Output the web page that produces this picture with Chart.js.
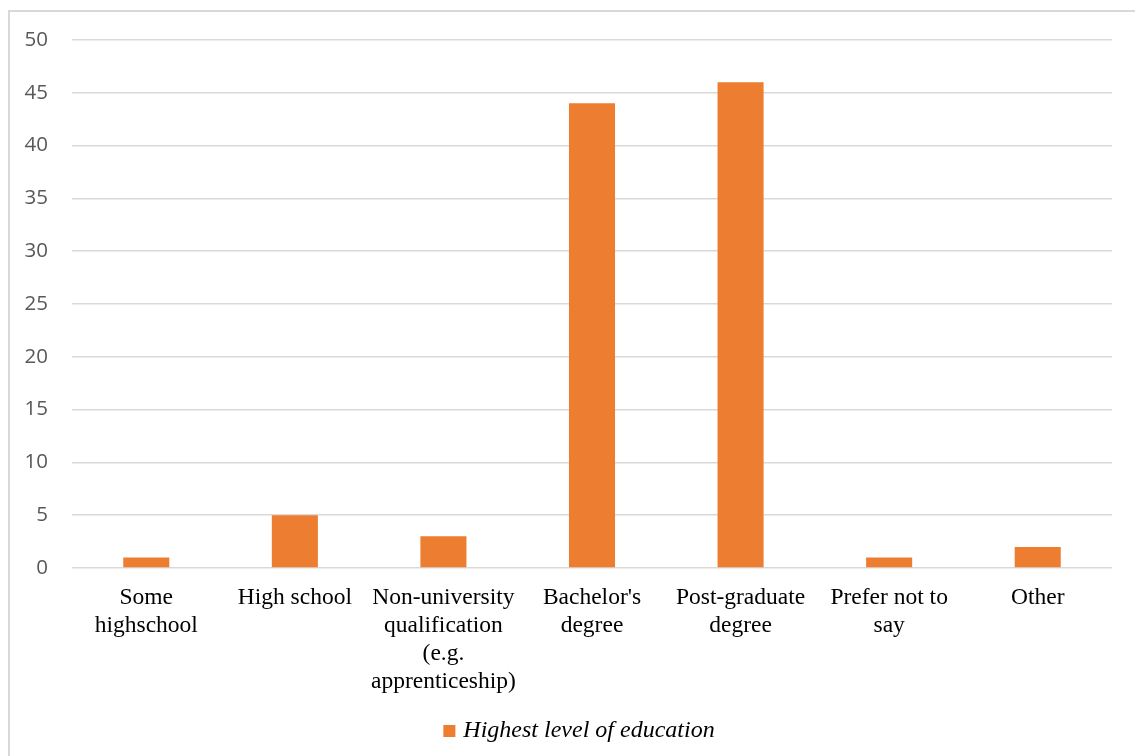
<!DOCTYPE html>
<html>
<head>
<meta charset="utf-8">
<script src="https://cdn.jsdelivr.net/npm/chart.js@4.4.0/dist/chart.umd.min.js"></script>
<style>
  body { margin: 0; background: #fff; overflow: hidden; }
  #frame { position: absolute; left: 8px; top: 10px; width: 1200px; height: 800px; border: 2px solid #d9d9d9; }
  #wrap { position: absolute; left: 0; top: 0; width: 1135px; height: 756px; }
</style>
</head>
<body>
<div id="frame"></div>
<div id="wrap"><canvas id="myChart"></canvas></div>
<script>
var categories = [
	['Some', 'highschool'],
	'High school',
	['Non-university', 'qualification', '(e.g.', 'apprenticeship)'],
	["Bachelor's", 'degree'],
	['Post-graduate', 'degree'],
	['Prefer not to', 'say'],
	'Other'
];
var values = [1, 5, 3, 44, 46, 1, 2];
var seriesName = 'Highest level of education';

var serif = '"Liberation Serif", "Times New Roman", serif';

// nudge the legend a bit to the right of the canvas centre
var legendShift = {
	id: 'legendShift',
	afterLayout: function(chart) {
		chart.legend.left += 25;
		chart.legend.right += 25;
	}
};

var ctx = document.getElementById('myChart').getContext('2d');
var chart = new Chart(ctx, {
	type: 'bar',
	data: {
		labels: categories,
		datasets: [{
			label: seriesName,
			data: values,
			backgroundColor: '#ED7D31',
			borderWidth: 0,
			barPercentage: 0.31,
			categoryPercentage: 1
		}]
	},
	options: {
		responsive: true,
		maintainAspectRatio: false,
		animation: false,
		layout: { padding: { left: 0, right: 23, top: 40, bottom: 3 } },
		plugins: {
			tooltip: { enabled: false },
			legend: {
				position: 'bottom',
				labels: {
					// narrow box slot + rect point style keeps the square close to the text
					usePointStyle: true,
					pointStyle: 'rect',
					boxWidth: 4,
					boxHeight: 12,
					padding: 10,
					color: '#000',
					font: { family: serif, size: 24, style: 'italic' }
				}
			}
		},
		scales: {
			x: {
				// fixed height keeps the plot bottom where the 0 line belongs
				afterFit: function(scale) { scale.height = 141; },
				grid: { display: false },
				border: { display: false },
				ticks: {
					color: '#000',
					padding: 8,
					maxRotation: 0,
					autoSkip: false,
					font: { family: serif, size: 23.5, lineHeight: '28px' }
				}
			},
			y: {
				min: 0,
				max: 50,
				afterFit: function(scale) { scale.width = 72; },
				grid: { color: '#d9d9d9', lineWidth: 1.5, drawTicks: false },
				border: { display: false },
				ticks: {
					stepSize: 5,
					color: '#595959',
					padding: 24,
					font: { family: '"Open Sans", sans-serif', size: 20.5 }
				}
			}
		}
	},
	plugins: [legendShift]
});
</script>
</body>
</html>
